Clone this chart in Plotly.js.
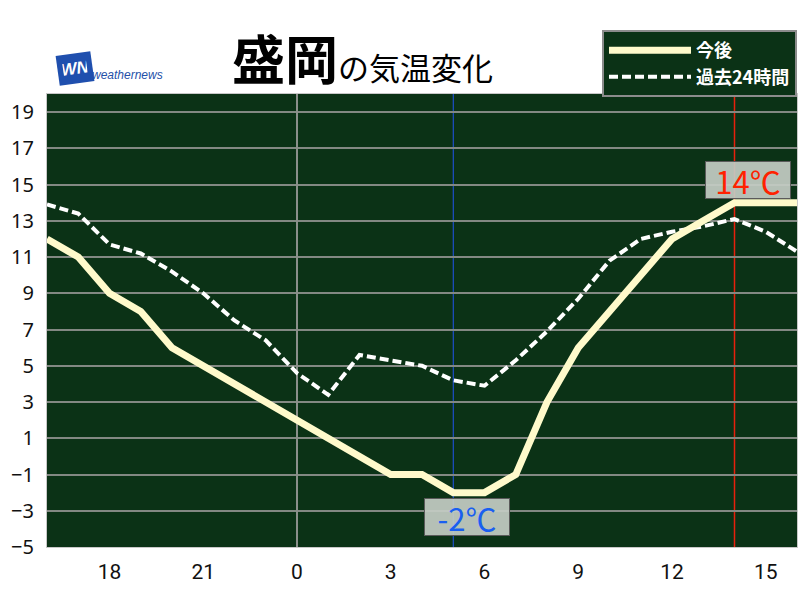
<!DOCTYPE html>
<html>
<head>
<meta charset="utf-8">
<script src="https://cdn.plot.ly/plotly-3.0.1.min.js"></script>
<style>html,body{margin:0;padding:0;background:#fff;}#chart{width:800px;height:600px;}</style>
</head>
<body>
<div id="chart"></div>
<script>
// hours relative to midnight (negative = previous day)
const hours = [-8,-7,-6,-5,-4,-3,-2,-1,0,1,2,3,4,5,6,7,8,9,10,11,12,13,14,15,16];
const forecast = [12,11,9,8,6,5,4,3,2,1,0,-1,-1,-2,-2,-1,3,6,8,10,12,13,14,14,14];
const past24h = [13.9,13.4,11.7,11.2,10.2,9.0,7.5,6.4,4.6,3.4,5.6,5.3,5.0,4.2,3.9,5.3,6.9,8.7,10.8,12.0,12.4,12.7,13.1,12.4,11.3];
const xTickVals = [-6,-3,0,3,6,9,12,15];
const xTickText = ['18','21','0','3','6','9','12','15'];
const yTickVals = [-5,-3,-1,1,3,5,7,9,11,13,15,17,19];
const seriesNames = ['今後','過去24時間'];
const minTime = 5, minTemp = -2;
const nowTime = 14, maxTemp = 14;
const titleCity = '盛岡', titleRest = 'の気温変化';

const traces = [
  {x: hours, y: past24h, type: 'scatter', mode: 'lines', name: seriesNames[1], legendrank: 2,
   line: {color: '#ffffff', width: 4, dash: '9px,4px'}, hoverinfo: 'skip'},
  {x: hours, y: forecast, type: 'scatter', mode: 'lines', name: seriesNames[0], legendrank: 1,
   line: {color: '#fffacb', width: 7}, hoverinfo: 'skip'}
];

const layout = {
  width: 800, height: 600,
  margin: {l: 47, r: 3, t: 94, b: 53},
  paper_bgcolor: '#ffffff',
  plot_bgcolor: '#0b3216',
  showlegend: true,
  legend: {x: 1, xanchor: 'right', y: 1.141, yanchor: 'top', bgcolor: '#0b3216',
    bordercolor: '#8c8c8c', borderwidth: 2, itemwidth: 82, tracegroupgap: 0,
    font: {family: 'Noto Sans CJK JP', size: 18, color: '#ffffff', weight: 'bold'}},
  xaxis: {range: [-8, 16], tickvals: xTickVals, ticktext: xTickText, showgrid: false,
    zeroline: true, zerolinecolor: '#8a8f8a', zerolinewidth: 2,
    showline: true, mirror: true, linecolor: '#c8c8c8', linewidth: 1,
    ticks: '', ticklabelstandoff: 6,
    tickfont: {family: 'Roboto', size: 21, color: '#111111'}},
  yaxis: {range: [-5, 20], tickvals: yTickVals, showgrid: true, gridcolor: '#838983', gridwidth: 2,
    zeroline: false, showline: true, mirror: true, linecolor: '#c8c8c8', linewidth: 1,
    ticks: '', ticklabelstandoff: 8,
    tickfont: {family: 'Noto Sans', size: 20, color: '#111111'}},
  shapes: [
    {type: 'line', xref: 'x', yref: 'paper', x0: minTime, x1: minTime, y0: 0, y1: 1,
     line: {color: '#2255ee', width: 1}, layer: 'below'},
    {type: 'line', xref: 'x', yref: 'paper', x0: nowTime, x1: nowTime, y0: 0, y1: 1,
     line: {color: '#e8200c', width: 1.5}, layer: 'below'}
  ],
  annotations: [
    {xref: 'x', yref: 'y', x: nowTime, y: maxTemp, xanchor: 'center', yanchor: 'bottom',
     xshift: 13, yshift: 4, showarrow: false, text: maxTemp + '℃',
     font: {family: 'Noto Sans CJK JP', size: 31, color: '#ff2200'},
     bgcolor: 'rgba(196,204,196,0.92)', bordercolor: '#5a5a5a', borderwidth: 1, borderpad: 0,
     width: 84, height: 36},
    {xref: 'x', yref: 'y', x: minTime, y: minTemp, xanchor: 'center', yanchor: 'top',
     xshift: 14, yshift: -5, showarrow: false, text: minTemp + '℃',
     font: {family: 'Noto Sans CJK JP', size: 31, color: '#1a5ff0'},
     bgcolor: 'rgba(196,204,196,0.92)', bordercolor: '#5a5a5a', borderwidth: 1, borderpad: 0,
     width: 84, height: 36},
    {xref: 'paper', yref: 'paper', x: 0.4213, y: 0.994, xanchor: 'center', yanchor: 'bottom',
     showarrow: false,
     text: '<b>' + titleCity + '</b><span style="font-size:31px">' + titleRest + '</span>',
     font: {family: 'Noto Sans CJK JP', size: 53, color: '#000000'}},
    {xref: 'paper', yref: 'paper', x: 0.0107, y: 1.096, xanchor: 'left', yanchor: 'top',
     showarrow: false, text: '<b><i>WN</i></b>', textangle: -8,
     font: {family: 'Liberation Sans', size: 17, color: '#ffffff'},
     bgcolor: '#1f4fae', borderpad: 5, width: 24},
    {xref: 'paper', yref: 'paper', x: 0.057, y: 1.061, xanchor: 'left', yanchor: 'top',
     showarrow: false, text: '<i>weathernews</i>',
     font: {family: 'Liberation Sans', size: 12, color: '#2450a8'}}
  ]
};

Plotly.newPlot('chart', traces, layout, {staticPlot: true, displayModeBar: false});
</script>
</body>
</html>
